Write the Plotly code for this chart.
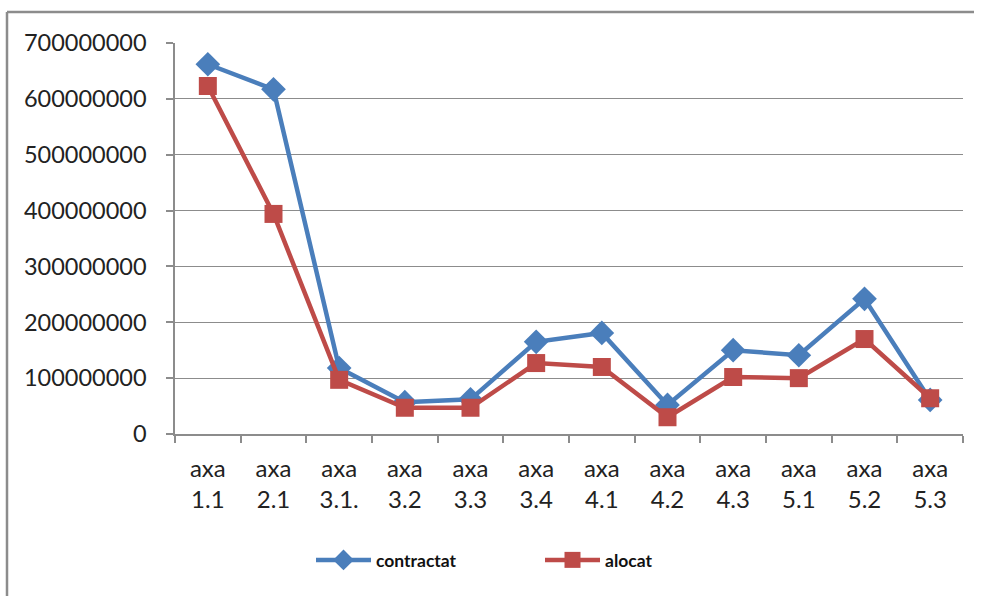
import plotly.graph_objects as go

# Categories (priority axes) and amounts
axe = ["1.1", "2.1", "3.1.", "3.2", "3.3", "3.4", "4.1", "4.2", "4.3", "5.1", "5.2", "5.3"]
contractat = [662e6, 617e6, 118e6, 57e6, 62e6, 165e6, 181e6, 52e6, 150e6, 141e6, 242e6, 61e6]
alocat = [623e6, 394e6, 97e6, 47e6, 47e6, 127e6, 120e6, 30e6, 102e6, 100e6, 170e6, 64e6]
y_ticks = [0, 100e6, 200e6, 300e6, 400e6, 500e6, 600e6, 700e6]

labels = ["axa<br>" + a for a in axe]

BLUE = "#4A7EBB"
RED = "#BE4B48"
FONT = "Lato"

fig = go.Figure()
fig.add_trace(go.Scatter(
    x=labels, y=contractat, name="contractat", mode="lines+markers",
    line=dict(color=BLUE, width=4.5),
    marker=dict(symbol="diamond", size=19, color=BLUE),
))
fig.add_trace(go.Scatter(
    x=labels, y=alocat, name="alocat", mode="lines+markers",
    line=dict(color=RED, width=4.5),
    marker=dict(symbol="square", size=18, color=RED),
))

L, R, T, B = 175, 18, 43, 163
W, H = 981, 597
pw, ph = W - L - R, H - T - B

def px_x(p):
    return (p - L) / pw

def px_y(p):
    return (H - B - p) / ph

# chart-area border: left edge and top edge
frame = dict(type="line", xref="paper", yref="paper",
             line=dict(color="#8C8C8C", width=2.5), layer="below")

fig.update_layout(
    width=W, height=H,
    margin=dict(l=L, r=R, t=T, b=B),
    paper_bgcolor="white", plot_bgcolor="white",
    font=dict(family=FONT, size=22, color="#222222"),
    showlegend=True,
    legend=dict(
        orientation="h", x=px_x(311), xanchor="left", y=px_y(560), yanchor="middle",
        font=dict(family=FONT, size=17.5, color="#111111", weight="bold"),
        itemwidth=55, entrywidth=159, entrywidthmode="pixels",
    ),
    xaxis=dict(
        type="category", showgrid=False, showline=True, linecolor="#8C8C8C", linewidth=1.5,
        ticks="outside", tickson="boundaries", ticklen=7, tickcolor="#8C8C8C", tickwidth=1.5,
        ticklabelstandoff=12,
        tickfont=dict(family=FONT, size=24, color="#222222"),
        range=[-0.5, len(axe) - 0.5],
    ),
    yaxis=dict(
        range=[0, 700e6], tickvals=y_ticks, ticktext=[f"{v:.0f}" for v in y_ticks],
        showgrid=True, gridcolor="#8C8C8C", gridwidth=1.2,
        showline=True, linecolor="#8C8C8C", linewidth=1.5,
        ticks="outside", ticklen=7, tickcolor="#8C8C8C", tickwidth=1.5,
        ticklabelstandoff=15,
        tickfont=dict(family=FONT, size=23.5, color="#222222"),
        zeroline=False,
    ),
    shapes=[
        dict(frame, x0=px_x(7), x1=px_x(7), y0=px_y(596), y1=px_y(12)),
        dict(frame, x0=px_x(7), x1=px_x(974), y0=px_y(12), y1=px_y(12)),
    ],
)

fig.write_html("out.html")
